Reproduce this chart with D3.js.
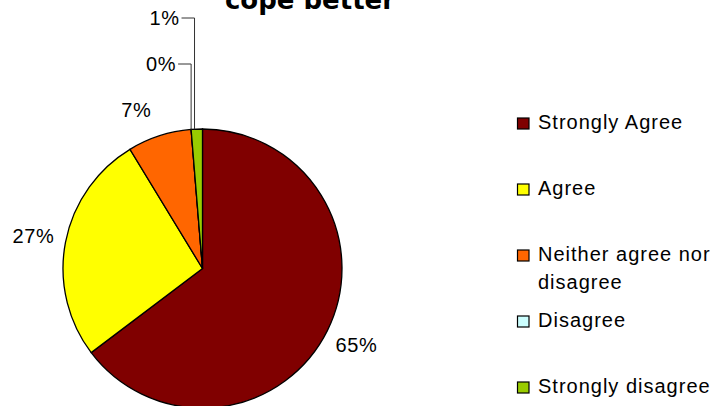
<!DOCTYPE html>
<html>
<head>
<meta charset="utf-8">
<script src="https://cdn.jsdelivr.net/npm/d3@7"></script>
<style>
  body { margin: 0; background: #fff; }
  svg text { font-family: "Liberation Sans", Arial, sans-serif; fill: #000; }
</style>
</head>
<body>
<div id="chart"></div>
<script>
var categories = ["Strongly Agree", "Agree", "Neither agree nor disagree", "Disagree", "Strongly disagree"];
var values = [64.7, 26.6, 7.4, 0, 1.3];
var colors = ["#800000", "#ffff00", "#ff6600", "#ccffff", "#99cc00"];
var legendLines = [["Strongly Agree"], ["Agree"], ["Neither agree nor", "disagree"], ["Disagree"], ["Strongly disagree"]];
var titleText = "cope better";

var width = 710,
    height = 406,
    cx = 202.5,
    cy = 268.5,
    radius = 139.5;

var svg = d3.select("#chart")
    .append("svg")
        .attr("width", width)
        .attr("height", height);

/* title, cut off at the top like the source */
svg.append("text")
    .attr("x", 310)
    .attr("y", 9)
    .attr("text-anchor", "middle")
    .style("font-family", "'DejaVu Sans', Verdana, sans-serif")
    .style("font-weight", "bold")
    .style("font-size", "26px")
    .text(titleText);

var data = categories.map(function(c, i) {
    return { name: c, value: values[i], color: colors[i] };
});

var pie = d3.pie()
    .sort(null)
    .value(function(d) { return d.value; });

var arcs = pie(data);

var arc = d3.arc()
    .innerRadius(0)
    .outerRadius(radius);

var labelArc = d3.arc()
    .innerRadius(172)
    .outerRadius(172);

var g = svg.append("g")
    .attr("transform", "translate(" + cx + "," + cy + ")");

g.selectAll("path")
    .data(arcs)
    .enter().append("path")
        .attr("d", arc)
        .attr("fill", function(d) { return d.data.color; })
        .attr("stroke", "#000")
        .attr("stroke-width", 1.3);

var total = d3.sum(values);
var share = function(d) { return d.data.value / total; };
var pct = function(d) { return Math.round(share(d) * 100) + "%"; };

/* big slices: label around the pie */
var big = arcs.filter(function(d) { return share(d) >= 0.03; });
var small = arcs.filter(function(d) { return share(d) < 0.03; });

g.selectAll("text.big")
    .data(big)
    .enter().append("text")
        .attr("class", "big")
        .attr("transform", function(d) {
            var c = labelArc.centroid(d);
            // narrow slices near the top get pushed left a bit, like excel does
            if (share(d) < 0.1) { c[0] -= 13; c[1] += 5; }
            return "translate(" + c + ")";
        })
        .attr("text-anchor", "middle")
        .attr("dy", "0.35em")
        .style("font-size", "20px")
        .style("letter-spacing", "0.6px")
        .text(pct);

/* small slices: stacked above with leader lines */
small.forEach(function(d, i) {
    var a = d.startAngle + (d.endAngle - d.startAngle) * 0.3;
    var px = radius * Math.sin(a),
        py = -radius * Math.cos(a);
    var ly = -radius - 65 - i * 46;
    var lx = px - 10;
    g.append("path")
        .attr("d", "M" + (lx - 3) + "," + ly + "H" + px + "V" + py)
        .attr("fill", "none")
        .attr("stroke", "#333")
        .attr("stroke-width", 1);
    g.append("text")
        .attr("x", lx - 5)
        .attr("y", ly)
        .attr("dy", "0.35em")
        .attr("text-anchor", "end")
        .style("font-size", "20px")
        .style("letter-spacing", "0.6px")
        .text(pct(d));
});

/* legend */
var rowY = d3.scalePoint()
    .domain(categories)
    .range([129, 393]);

var legend = svg.append("g")
    .selectAll("g")
    .data(data)
    .enter().append("g")
        .attr("transform", function(d) { return "translate(517," + rowY(d.name) + ")"; });

legend.append("rect")
    .attr("x", 0.5)
    .attr("y", -11)
    .attr("width", 11.5)
    .attr("height", 11)
    .attr("fill", function(d) { return d.color; })
    .attr("stroke", "#000")
    .attr("stroke-width", 1.2);

legend.append("text")
    .attr("x", 21)
    .style("font-size", "20px")
    .style("letter-spacing", "1px")
    .selectAll("tspan")
    .data(function(d, i) { return legendLines[i]; })
    .enter().append("tspan")
        .attr("x", 21)
        .attr("dy", function(d, i) { return i === 0 ? 0 : 27.5; })
        .text(function(d) { return d; });
</script>
</body>
</html>
